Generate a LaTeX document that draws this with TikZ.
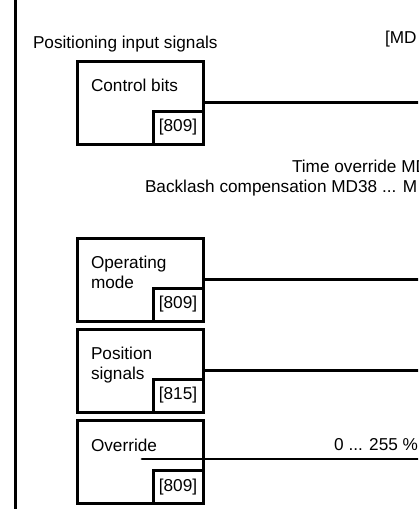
\documentclass[tikz,border=0pt]{standalone}
\usepackage{fontspec}
\setmainfont{Liberation Sans}
\usetikzlibrary{positioning}

\begin{document}
\begin{tikzpicture}[x=1pt, y=-1pt,
    every node/.style={font=\fontsize{17.2}{20}\selectfont, inner sep=0pt, outer sep=0pt},
    sigbox/.style={draw, line width=3pt, minimum width=126pt, minimum height=83pt},
    tagbox/.style={draw, line width=3pt, minimum width=50pt, minimum height=33pt, anchor=south east},
    boxtext/.style={anchor=north west, align=left},
    sigline/.style={line width=2.4pt}]
  \clip (0,0) rectangle (418,509);
  % left edge of the page frame
  \draw[line width=3pt] (15,-5) -- (15,515);
  \coordinate (rim) at (425,0);
  % headings
  \node[anchor=base west] (head) at (33,48) {Positioning input signals};
  \node[anchor=base west] (mdref) at (385,43) {[MD};
  \node[anchor=base west] (timeov) at (292,172) {Time override MD};
  \node[anchor=base west] (backl) at (145,192) {Backlash compensation MD38 ... M};
  % signal boxes
  \node[sigbox] (ctrl) at (140,102.5) {};
  \node[tagbox] (ctrltag) at (ctrl.south east) {[809]};
  \node[boxtext] (ctrltxt) at ([shift={(14,18.5)}]ctrl.north west) {Control bits};
  \node[sigbox] (opmode) at (140,279.5) {};
  \node[tagbox] (opmodetag) at (opmode.south east) {[809]};
  \node[boxtext] (opmodetxt) at ([shift={(14,18.5)}]opmode.north west) {Operating\\mode};
  \node[sigbox] (possig) at (140,370.5) {};
  \node[tagbox] (possigtag) at (possig.south east) {[815]};
  \node[boxtext] (possigtxt) at ([shift={(14,18.5)}]possig.north west) {Position\\signals};
  \node[sigbox] (ovr) at (140,462) {};
  \node[tagbox] (ovrtag) at (ovr.south east) {[809]};
  \node[boxtext] (ovrtxt) at ([shift={(14,18.5)}]ovr.north west) {Override};
  % signal lines
  \draw[sigline] (ctrl.east) -- (ctrl.east -| rim);
  \draw[sigline] (opmode.east) -- (opmode.east -| rim);
  \draw[sigline] (possig.east) -- (possig.east -| rim);
  \coordinate (ovrin) at (142,459);
  \draw[sigline, line width=2.8pt, line cap=round] (ovrin) -- (ovrin -| rim);
  \node[anchor=base east] (ovrrange) at (418,450) {0 ... 255 \%};
\end{tikzpicture}
\end{document}
